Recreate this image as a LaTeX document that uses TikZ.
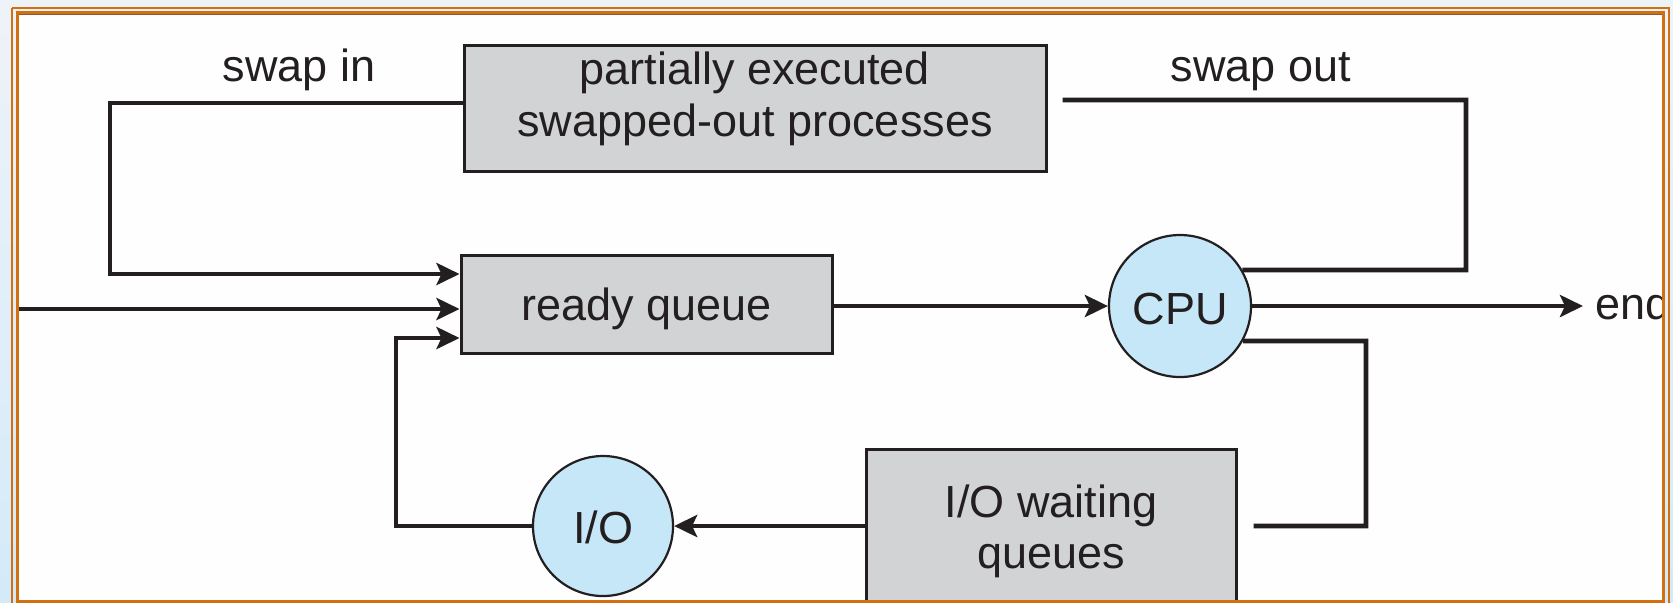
\documentclass[tikz,border=0pt]{standalone}
\usepackage{fontspec}
\setmainfont{Liberation Sans}
\usetikzlibrary{arrows.meta}
\definecolor{ink}{HTML}{231F20}
\definecolor{boxgrey}{HTML}{D1D3D4}
\definecolor{unitblue}{HTML}{C6E7F8}
\definecolor{frameor}{HTML}{D2700F}
\definecolor{framedk}{HTML}{8A5A30}
\definecolor{bgtop}{HTML}{EEF3F8}
\definecolor{bgbot}{HTML}{D4EAF9}
\definecolor{paper}{HTML}{FEFEFE}
\begin{document}
\begin{tikzpicture}[x=0.5pt,y=-0.5pt,
  font=\fontsize{22.5}{25.5}\selectfont,
  queuebox/.style={draw=ink, line width=1.5pt, fill=boxgrey, inner sep=0pt},
  unit/.style={circle, draw=ink, line width=1.1pt, fill=unitblue, inner sep=0pt, text=ink},
  lbl/.style={text=ink, inner sep=0pt, anchor=base},
  conn/.style={draw=ink, line width=2.3pt, -{Stealth[length=11.5pt,width=11pt,inset=2.5pt]}},
  plain/.style={draw=ink, line width=2.3pt},
]
\useasboundingbox (0,0) rectangle (1673,602);
% background and paper
\shade[top color=bgtop, bottom color=bgbot] (0,0) rectangle (1673,602);
\fill[paper] (18.5,14) rectangle (1662,600);

\begin{scope}
\clip (18.5,14) rectangle (1662,600);
% nodes
\node[queuebox, minimum width=291pt, minimum height=63pt] (top) at (755,108) {};
\node[lbl] (toptxt1) at (755,84) {partially executed};
\node[lbl] (toptxt2) at (755,136) {swapped-out processes};
\node[queuebox, minimum width=185.5pt, minimum height=49pt] (ready) at (646.5,304) {};
\node[lbl] (readytxt) at (646.5,320) {ready queue};
\node[queuebox, minimum width=185pt, minimum height=85.5pt] (wait) at (1051,534.5) {};
\node[lbl] (waittxt1) at (1051,517) {I/O waiting};
\node[lbl] (waittxt2) at (1051,568) {queues};
\node[unit, minimum size=71pt] (cpu) at (1180,306) {};
\node[lbl] (cputxt) at (1180,324) {CPU};
\node[unit, minimum size=70pt] (io) at (603,526) {};
\node[lbl] (iotxt) at (603,543) {I/O};
\node[lbl] (swapin) at (299,81) {swap in};
\node[lbl] (swapout) at (1261,81) {swap out};
\node[text=ink, inner sep=0pt, anchor=base west] (endlbl) at (1595,319) {end};
\coordinate (entry) at (19,309);

% connectors
\draw[conn] (top.west |- 0,103) -- (110,103) -- (110,274) -- (ready.west |- 0,274);
\draw[conn] (entry) -- (ready.west |- entry);
\draw[conn] (ready.east |- cpu.west) -- (cpu.west);
\draw[plain] ([xshift=7.5pt]top.east |- 0,100) -- (1466,100) -- (1466,270) -- (cpu.30.5);
\draw[conn] (cpu.east) -- ([xshift=-6pt]endlbl.west |- cpu.east);
\draw[plain] (cpu.-29.5) -- (1366,341) -- (1366,526) -- ([xshift=8pt]wait.east |- io.east);
\draw[conn] (wait.west |- io.east) -- (io.east);
\draw[conn] (io.west) -- (396,526) -- (396,338) -- (ready.west |- 0,338);
\end{scope}

% frame
\draw[frameor, line width=1pt] (12,8) -- (1669,8) -- (1669,620);
\draw[frameor, line width=1pt] (12,8) -- (12,620);
\draw[frameor, line width=1.5pt] (17,12.5) -- (1663.5,12.5) -- (1663.5,601.5) -- (17,601.5) -- cycle;
\draw[framedk, line width=0.5pt] (18.5,14.5) -- (1662,14.5);
\end{tikzpicture}
\end{document}
